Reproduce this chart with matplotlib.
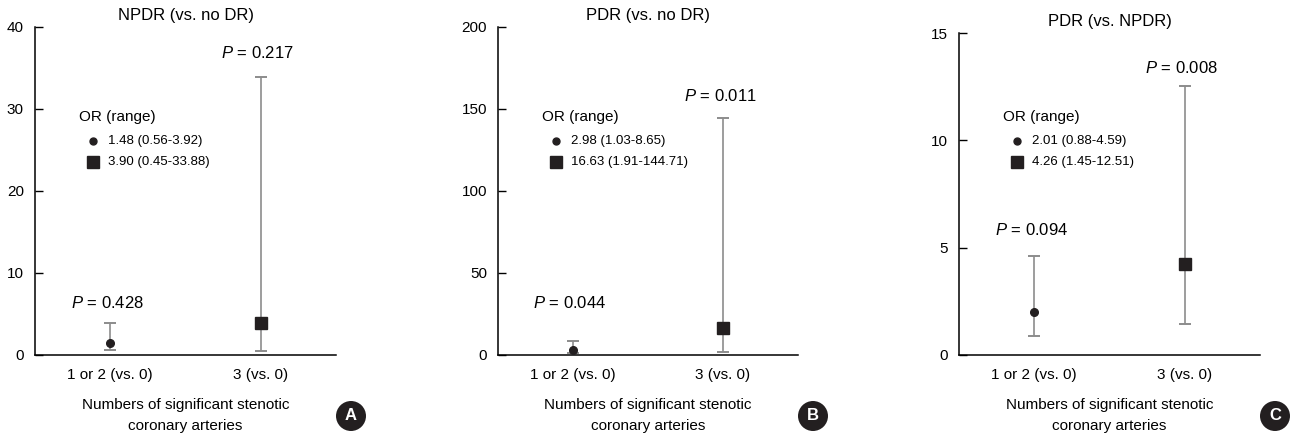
#!/usr/bin/env python3

import matplotlib
matplotlib.use("Agg")
from matplotlib import pyplot as plt
from matplotlib import transforms

matplotlib.rcParams['font.family'] = ['Liberation Sans', 'DejaVu Sans']
matplotlib.rcParams['mathtext.fontset'] = 'custom'
matplotlib.rcParams['mathtext.rm'] = 'Liberation Sans'
matplotlib.rcParams['mathtext.it'] = 'Liberation Sans:italic'

# data
categories = ["1 or 2 (vs. 0)", "3 (vs. 0)"]
titles = ["NPDR (vs. no DR)", "PDR (vs. no DR)", "PDR (vs. NPDR)"]
panel_letters = ["A", "B", "C"]

or_npdr = [1.48, 3.90]
lo_npdr = [0.56, 0.45]
hi_npdr = [3.92, 33.88]
p_npdr = ["0.428", "0.217"]

or_pdr = [2.98, 16.63]
lo_pdr = [1.03, 1.91]
hi_pdr = [8.65, 144.71]
p_pdr = ["0.044", "0.011"]

or_pdr_npdr = [2.01, 4.26]
lo_pdr_npdr = [0.88, 1.45]
hi_pdr_npdr = [4.59, 12.51]
p_pdr_npdr = ["0.094", "0.008"]

y_max = [40, 200, 15]
y_ticks = [[0, 10, 20, 30, 40], [0, 50, 100, 150, 200], [0, 5, 10, 15]]

panels = [
    (or_npdr, lo_npdr, hi_npdr, p_npdr),
    (or_pdr, lo_pdr, hi_pdr, p_pdr),
    (or_pdr_npdr, lo_pdr_npdr, hi_pdr_npdr, p_pdr_npdr),
]

# layout (pixels)
W, H = 1293, 442
axes_px = [(35, 27, 301), (498, 27, 300), (959, 33, 301)]  # left, top, width
bottom_px = 355
p_offsets = [[20, 24], [38, 22], [26, 18]]
letter_x = [351, 813, 1275]

dark = '#231f20'
grey = '#8c8c8c'

fig = plt.figure(figsize=(W / 100, H / 100), dpi=100)

for i, (ors, los, his, ps) in enumerate(panels):
    left, top, width = axes_px[i]
    ax = fig.add_axes([left / W, 1 - bottom_px / H, width / W, (bottom_px - top) / H])
    x = [0.5, 1.5]
    ax.set_xlim(0, 2)
    ax.set_ylim(0, y_max[i])

    err = [[o - l for o, l in zip(ors, los)], [h - o for o, h in zip(ors, his)]]
    _, caps, bars = ax.errorbar(x, ors, yerr=err, fmt='none', ecolor=grey,
                                elinewidth=1.2, capsize=4, capthick=1.4, zorder=2)
    for c in caps:
        c.set_color('#333333')
    ax.plot(x[0], ors[0], 'o', color=dark, markersize=5.5, zorder=3)
    ax.plot(x[1], ors[1], 's', color=dark, markersize=9, zorder=3)

    for j in range(2):
        ax.annotate(r'$P$ = ' + ps[j], xy=(x[j], his[j]), xytext=(-3, p_offsets[i][j]),
                    textcoords='offset pixels', ha='center', va='center', fontsize=12)

    # legend block
    ax.annotate("OR (range)", xy=(0, 0), xycoords='axes fraction',
                xytext=(44, 238), textcoords='offset pixels',
                ha='left', va='center', fontsize=11)
    tr1 = transforms.offset_copy(ax.transAxes, fig, 58, 214, units='dots')
    tr2 = transforms.offset_copy(ax.transAxes, fig, 58, 193, units='dots')
    ax.plot([0], [0], 'o', color=dark, markersize=5, transform=tr1, clip_on=False)
    ax.plot([0], [0], 's', color=dark, markersize=8.5, transform=tr2, clip_on=False)
    ax.annotate("%.2f (%.2f-%.2f)" % (ors[0], los[0], his[0]), xy=(0, 0), xycoords='axes fraction',
                xytext=(73, 214), textcoords='offset pixels', ha='left', va='center', fontsize=9.5)
    ax.annotate("%.2f (%.2f-%.2f)" % (ors[1], los[1], his[1]), xy=(0, 0), xycoords='axes fraction',
                xytext=(73, 193), textcoords='offset pixels', ha='left', va='center', fontsize=9.5)

    ax.set_xticks(x)
    ax.set_xticklabels(categories)
    ax.set_yticks(y_ticks[i])
    ax.tick_params(axis='x', length=0, pad=9, labelsize=11)
    ax.tick_params(axis='y', direction='in', length=6, width=1, pad=8, labelsize=11)
    for s in ['top', 'right']:
        ax.spines[s].set_visible(False)
    for s in ['left', 'bottom']:
        ax.spines[s].set_linewidth(1.1)

    ax.set_title(titles[i], fontsize=12, pad=5)
    ax.set_xlabel("Numbers of significant stenotic\ncoronary arteries", fontsize=11,
                  labelpad=12, linespacing=1.6)

    fig.text(letter_x[i] / W, 1 - 416 / H, panel_letters[i], color='white', fontsize=12,
             fontweight='bold', ha='center', va='center',
             bbox=dict(boxstyle='circle,pad=0.45', fc=dark, ec='none'))

plt.savefig("out.png", dpi=100)
